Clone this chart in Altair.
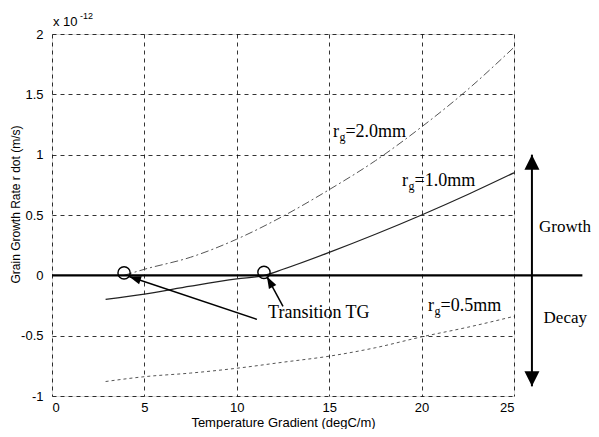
import math
import altair as alt
import pandas as pd

# ---------------- data ----------------
x_rg20 = [3.9, 5, 7.5, 10, 12.5, 15, 17.5, 20, 22.5, 25]
y_rg20 = [0.0, 0.05, 0.15, 0.30, 0.49, 0.71, 0.95, 1.23, 1.54, 1.89]

x_rg10 = [2.9, 5, 7.5, 10, 11.5, 12.5, 15, 17.5, 20, 22.5, 25]
y_rg10 = [-0.20, -0.155, -0.09, -0.03, 0.0, 0.05, 0.19, 0.34, 0.50, 0.67, 0.85]

x_rg05 = [2.9, 5, 7.5, 10, 12.5, 15, 17.5, 20, 22.5, 25]
y_rg05 = [-0.88, -0.84, -0.81, -0.77, -0.72, -0.67, -0.60, -0.51, -0.43, -0.34]

x_ticks = [0, 5, 10, 15, 20, 25]
y_ticks = [-1, -0.5, 0, 0.5, 1, 1.5, 2]

# transition points (circles)
trans_x = [3.9, 11.47]
trans_y = [0.02, 0.025]

# curve labels
lab_x = [15.2, 18.94, 20.35]
lab_y = [1.19, 0.78, -0.25]
lab_rest = ["=2.0mm", "=1.0mm", "=0.5mm"]

# annotation arrows (tail -> tip)
arr_tail_x = [11.09, 12.5]
arr_tail_y = [-0.365, -0.257]
arr_tip_x = [4.17, 11.63]
arr_tip_y = [-0.01, -0.01]

# growth / decay arrow
gd_x = 25.97
gd_top = 1.0
gd_bot = -0.92
zero_line_x = [0, 28.7]

W, H = 462, 362
px_x = W / 25.0
px_y = H / 3.0

xs = alt.Scale(domain=[0, 25], nice=False, zero=False)
ys = alt.Scale(domain=[-1, 2], nice=False, zero=False)

SANS = "Liberation Sans"
SERIF = "Liberation Serif"

x_axis = alt.Axis(values=x_ticks, grid=True, gridDash=[4, 4], gridColor="black",
                  gridOpacity=1, gridWidth=0.8, domain=False, ticks=False,
                  labelFont=SANS, labelFontSize=13, labelColor="black", labelPadding=5,
                  title="Temperature Gradient (degC/m)", titleFont=SANS, titleFontSize=13,
                  titleFontWeight="normal", titleColor="black", titlePadding=2)
y_axis = alt.Axis(values=y_ticks, grid=True, gridDash=[4, 4], gridColor="black",
                  gridOpacity=1, gridWidth=0.8, domain=False, ticks=False,
                  labelFont=SANS, labelFontSize=13, labelColor="black", labelPadding=9,
                  labelExpr="'' + datum.value",
                  title="Grain Growth Rate r dot (m/s)", titleFont=SANS, titleFontSize=12,
                  titleFontWeight="normal", titleColor="black",
                  titleX=-37, titleY=170, titleBaseline="middle", titleAngle=270)

X = alt.X("x:Q", scale=xs, axis=x_axis)
Y = alt.Y("y:Q", scale=ys, axis=y_axis)

df20 = pd.DataFrame({"x": x_rg20, "y": y_rg20})
df10 = pd.DataFrame({"x": x_rg10, "y": y_rg10})
df05 = pd.DataFrame({"x": x_rg05, "y": y_rg05})

c20 = alt.Chart(df20).mark_line(color="#555555", strokeWidth=1, strokeDash=[8, 3, 2, 3],
                                interpolate="monotone").encode(x=X, y=Y)
c10 = alt.Chart(df10).mark_line(color="#222222", strokeWidth=1.2,
                                interpolate="monotone").encode(x=X, y=Y)
c05 = alt.Chart(df05).mark_line(color="#555555", strokeWidth=1, strokeDash=[3, 3],
                                interpolate="monotone").encode(x=X, y=Y)

zero_df = pd.DataFrame({"x": zero_line_x, "y": [0, 0]})
zero = alt.Chart(zero_df).mark_line(color="black", strokeWidth=2.2).encode(x=X, y=Y)

circ_df = pd.DataFrame({"x": trans_x, "y": trans_y})
circ = alt.Chart(circ_df).mark_point(shape="circle", filled=False, color="black",
                                     strokeWidth=1.4, size=150, opacity=1).encode(x=X, y=Y)

# transition arrows
angles = []
for tx, ty, hx, hy in zip(arr_tail_x, arr_tail_y, arr_tip_x, arr_tip_y):
    dx = (hx - tx) * px_x
    dy = (hy - ty) * px_y
    angles.append(math.degrees(math.atan2(dx, dy)) % 360)

arr_df = pd.DataFrame({"x": arr_tail_x, "y": arr_tail_y, "x2": arr_tip_x, "y2": arr_tip_y})
arr_lines = alt.Chart(arr_df).mark_rule(color="black", strokeWidth=1.5).encode(
    x=X, y=Y, x2="x2:Q", y2="y2:Q")
head_df = pd.DataFrame({"x": arr_tip_x, "y": arr_tip_y, "angle": angles})
arr_heads = alt.Chart(head_df).mark_point(
    shape="M0,0L-0.35,1L0.35,1Z", filled=True, color="black", size=576, opacity=1
).encode(x=X, y=Y, angle=alt.Angle("angle:Q", scale=None))

# growth / decay arrow
gd_df = pd.DataFrame({"x": [gd_x], "y": [gd_top], "y2": [gd_bot]})
gd_line = alt.Chart(gd_df).mark_rule(color="black", strokeWidth=2).encode(x=X, y=Y, y2="y2:Q")
gd_heads_df = pd.DataFrame({"x": [gd_x, gd_x], "y": [gd_top, gd_bot], "angle": [0, 180]})
gd_heads = alt.Chart(gd_heads_df).mark_point(
    shape="M0,0L-0.5,1L0.5,1Z", filled=True, color="black", size=900, opacity=1
).encode(x=X, y=Y, angle=alt.Angle("angle:Q", scale=None))

gd_text_df = pd.DataFrame({"x": [26.35, 26.6], "y": [0.40, -0.35], "t": ["Growth", "Decay"]})
gd_text = alt.Chart(gd_text_df).mark_text(font=SERIF, fontSize=17, align="left",
                                          baseline="middle", color="black").encode(x=X, y=Y, text="t:N")

tt_df = pd.DataFrame({"x": [11.69], "y": [-0.31], "t": ["Transition TG"]})
tt_text = alt.Chart(tt_df).mark_text(font=SERIF, fontSize=18, align="left",
                                     baseline="middle", color="black").encode(x=X, y=Y, text="t:N")

lab_df = pd.DataFrame({"x": lab_x, "y": lab_y, "r": ["r"] * 3, "g": ["g"] * 3, "rest": lab_rest})
lab_r = alt.Chart(lab_df).mark_text(font=SERIF, fontSize=18, align="left", baseline="middle",
                                    color="black").encode(x=X, y=Y, text="r:N")
lab_g = alt.Chart(lab_df).mark_text(font=SERIF, fontSize=12, align="left", baseline="middle",
                                    dx=6.5, dy=5, color="black").encode(x=X, y=Y, text="g:N")
lab_rest_m = alt.Chart(lab_df).mark_text(font=SERIF, fontSize=18, align="left", baseline="middle",
                                         dx=12.5, color="black").encode(x=X, y=Y, text="rest:N")

exp_df = pd.DataFrame({"x": [0.05], "y": [2.10], "a": ["x 10"], "b": ["-12"]})
exp_a = alt.Chart(exp_df).mark_text(font=SANS, fontSize=13, align="left", baseline="middle",
                                    color="black").encode(x=X, y=Y, text="a:N")
exp_b = alt.Chart(exp_df).mark_text(font=SANS, fontSize=9, align="left", baseline="middle",
                                    dx=27, dy=-6, color="black").encode(x=X, y=Y, text="b:N")

chart = alt.layer(
    c20, c10, c05, zero, circ, arr_lines, arr_heads, gd_line, gd_heads,
    gd_text, tt_text, lab_r, lab_g, lab_rest_m, exp_a, exp_b
).properties(
    width=W, height=H,
    autosize=alt.AutoSizeParams(type="none"),
    padding={"left": 44, "top": 26, "right": 77, "bottom": 33},
).configure_view(stroke="black", strokeWidth=1.2).configure(background="white")

chart.save("out.html", embed_options={"renderer": "svg", "actions": False})
